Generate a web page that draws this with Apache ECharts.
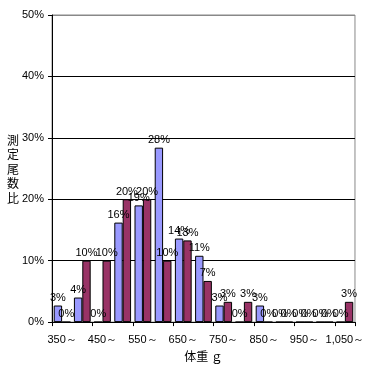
<!DOCTYPE html>
<html><head><meta charset="utf-8">
<script src="https://cdn.jsdelivr.net/npm/echarts@6/dist/echarts.min.js"></script>
<style>html,body{margin:0;padding:0;background:#fff}#c{width:367px;height:367px}</style>
</head><body><div id="c"></div>
<script>
const categories = ['350～','400～','450～','500～','550～','600～','650～','700～','750～','800～','850～','900～','950～','1,000～','1,050～'];
const seriesA = [2.7, 4.0, 0, 16.2, 19.0, 28.4, 13.6, 10.8, 2.7, 0, 2.7, 0, 0, 0, 0];
const seriesB = [0, 10.0, 10.0, 20.0, 20.0, 10.0, 13.3, 6.7, 3.3, 3.3, 0, 0, 0, 0, 3.3];
const yTicks = [0, 10, 20, 30, 40, 50];
const yName = '測定尾数比';
const xName = '体重 ｇ';

const font = 'Liberation Sans, Arial, sans-serif';
const label = {show:true, position:'top', distance:2, fontSize:11, fontFamily:font, color:'#000',
  formatter: p => Math.round(p.value) + '%'};
const chart = echarts.init(document.getElementById('c'), null, {renderer:'canvas'});
chart.setOption({
  animation:false,
  backgroundColor:'#fff',
  grid:{left:52, right:8, top:15, bottom:44, show:true, borderColor:'#888', borderWidth:1},
  xAxis:{type:'category', data:categories,
    axisLine:{lineStyle:{color:'#000', width:1}},
    axisTick:{show:true, length:4, lineStyle:{color:'#000'}},
    axisLabel:{interval:1, fontSize:11, fontFamily:font, color:'#000', margin:12},
    name:xName, nameLocation:'middle', nameGap:25,
    nameTextStyle:{fontSize:12, fontFamily:'Noto Sans CJK JP', color:'#000'}},
  yAxis:{type:'value', min:yTicks[0], max:yTicks[yTicks.length-1], interval:10,
    axisLine:{show:true, lineStyle:{color:'#000'}},
    axisTick:{show:true, length:4, lineStyle:{color:'#000'}},
    axisLabel:{formatter:'{value}%', fontSize:11, fontFamily:font, color:'#000', margin:8},
    splitLine:{show:true, lineStyle:{color:['#000','#000','#000','#000','#000','#888'], width:1}}},
  graphic:[{type:'text', left:7, top:133,
    style:{text:yName.split('').join('\n'), fontSize:12, lineHeight:14.5, fontFamily:'Noto Sans CJK JP', fill:'#000'}}],
  series:[
    {type:'bar', data:seriesA, barGap:'0%', barCategoryGap:'17%',
     itemStyle:{color:'#9999FF', borderColor:'#000', borderWidth:1}, label:label},
    {type:'bar', data:seriesB, barGap:'0%', barCategoryGap:'17%',
     itemStyle:{color:'#993366', borderColor:'#000', borderWidth:1}, label:label}
  ]
});
</script></body></html>
